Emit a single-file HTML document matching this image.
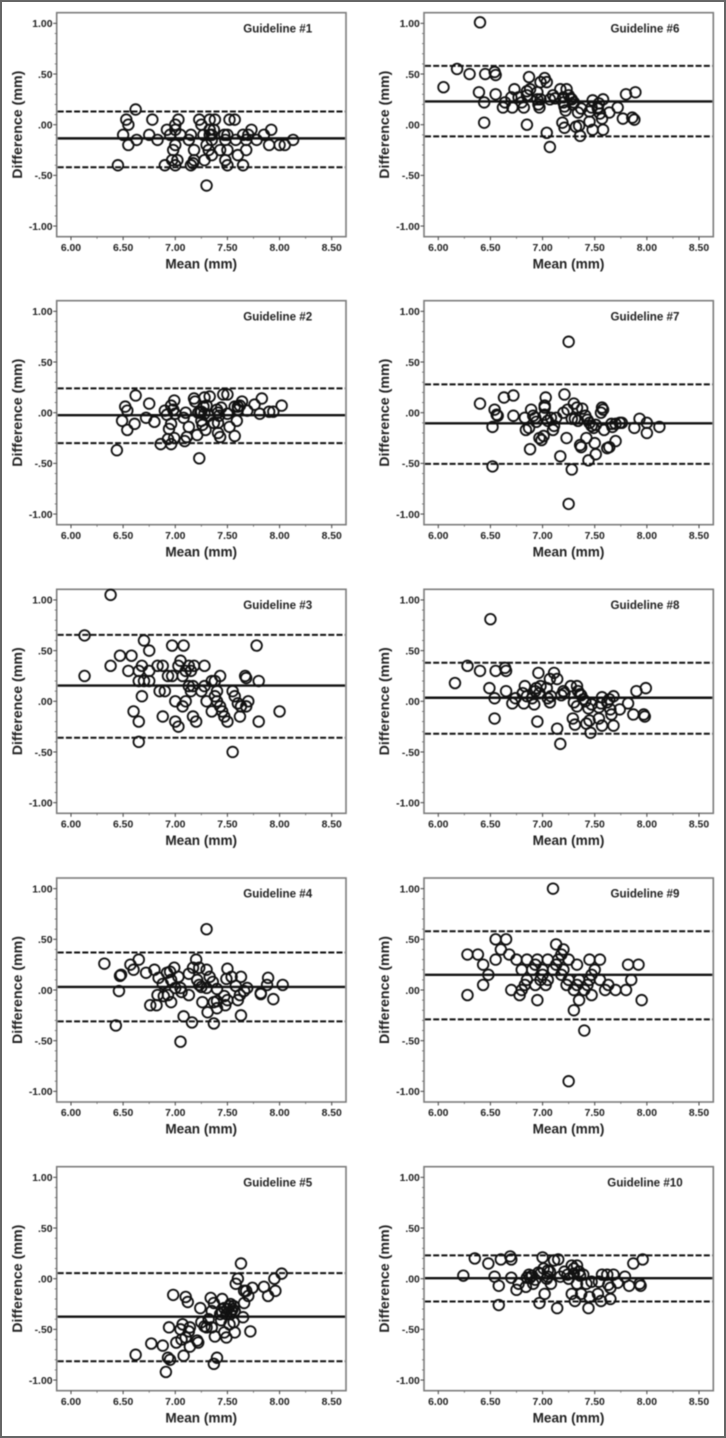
<!DOCTYPE html>
<html lang="en">
<head>
<meta charset="utf-8">
<title>Bland-Altman plots for guidelines 1 to 10</title>
<style>
  html, body { margin: 0; padding: 0; background: #fff; width: 726px; height: 1438px; overflow: hidden; }
  #page-frame { position: absolute; left: 0; top: 0; width: 722px; height: 1434px; border: 2px solid #666; }
  #figure { position: absolute; left: 0; top: 0; display: block; filter: blur(0.45px); }
  text { font-family: "Liberation Sans", Arial, sans-serif; font-weight: bold; fill: #222; }
</style>
</head>
<body>
<div id="page-frame"></div>
<svg id="figure" xmlns="http://www.w3.org/2000/svg" width="726" height="1438" viewBox="0 0 726 1438"></svg>
<script>
// ---- Tick data ----
const xTickValues = [6, 6.5, 7, 7.5, 8, 8.5];
const xTickLabels = ['6.00', '6.50', '7.00', '7.50', '8.00', '8.50'];
const xMinorValues = [6.25, 6.75, 7.25, 7.75, 8.25];
const yTickValues = [1, 0.5, 0, -0.5, -1];
const yTickLabels = ['1.00', '.50', '.00', '-.50', '-1.00'];
const yMinorValues = [0.9, 0.8, 0.7, 0.6, 0.4, 0.3, 0.2, 0.1, -0.1, -0.2, -0.3, -0.4, -0.6, -0.7, -0.8, -0.9];

// ---- Panel titles and limit lines, Guideline #1 to #10 ----
const guidelineTitles = ['Guideline #1','Guideline #2','Guideline #3','Guideline #4','Guideline #5','Guideline #6','Guideline #7','Guideline #8','Guideline #9','Guideline #10'];
const meanDifference = [-0.135,-0.025,0.155,0.03,-0.375,0.23,-0.105,0.035,0.15,0.005];
const upperLimit = [0.13,0.24,0.655,0.37,0.055,0.58,0.28,0.38,0.58,0.23];
const lowerLimit = [-0.42,-0.30,-0.36,-0.31,-0.815,-0.115,-0.505,-0.32,-0.29,-0.225];

// ---- Observations: [mean, difference] ----
const guideline1 = [[6.45,-.40],[6.50,-.10],[6.53,.05],[6.55,.00],[6.55,-.20],[6.62,.15],[6.63,-.15],[6.75,-.10],[6.78,.05],[6.83,-.15],[6.90,-.40],[6.92,-.05],[6.95,-.10],[6.98,-.25],[6.97,-.35],[7.00,.00],[7.00,-.05],[7.00,-.20],[7.00,-.40],[7.02,-.35],[7.03,.05],[7.05,-.10],[7.13,-.15],[7.15,-.40],[7.15,-.10],[7.17,-.38],[7.18,-.25],[7.18,-.35],[7.23,.05],[7.25,.00],[7.27,-.10],[7.28,-.35],[7.30,-.60],[7.30,-.20],[7.32,-.25],[7.33,.05],[7.33,-.05],[7.33,-.10],[7.35,-.15],[7.35,-.30],[7.37,-.05],[7.38,.05],[7.35,-.10],[7.43,-.25],[7.47,-.10],[7.48,-.35],[7.50,-.25],[7.52,.05],[7.57,.05],[7.50,-.10],[7.48,-.15],[7.50,-.40],[7.58,-.15],[7.60,-.30],[7.65,-.40],[7.65,-.10],[7.68,-.25],[7.68,-.15],[7.70,-.10],[7.73,-.05],[7.78,-.15],[7.85,-.10],[7.90,-.20],[7.92,-.05],[8.00,-.20],[8.05,-.20],[8.13,-.15]];
const guideline2 = [[6.44,-.37],[6.49,-.08],[6.52,.06],[6.54,.02],[6.54,-.17],[6.62,.17],[6.61,-.11],[6.72,-.05],[6.75,.09],[6.80,-.09],[6.86,-.31],[6.90,.02],[6.92,-.02],[6.93,-.26],[6.94,-.16],[6.96,-.31],[6.96,-.11],[6.96,.07],[6.98,.03],[6.99,.12],[6.99,-.25],[7.00,-.01],[7.08,-.05],[7.09,-.28],[7.10,.00],[7.11,-.24],[7.13,-.14],[7.18,.14],[7.19,.11],[7.21,-.22],[7.22,.00],[7.24,.00],[7.23,-.45],[7.25,.01],[7.25,-.08],[7.26,-.12],[7.27,.06],[7.28,.15],[7.28,-.01],[7.29,-.17],[7.30,.07],[7.33,.16],[7.32,-.03],[7.37,-.10],[7.40,.03],[7.41,-.10],[7.41,-.20],[7.41,.00],[7.42,-.03],[7.43,-.24],[7.44,.05],[7.46,.18],[7.50,.18],[7.50,-.01],[7.52,-.14],[7.57,.06],[7.57,-.23],[7.60,.06],[7.60,.03],[7.59,-.08],[7.64,.11],[7.62,.07],[7.69,.02],[7.76,.08],[7.81,-.01],[7.83,.14],[7.90,.01],[7.94,.01],[8.02,.07]];
const guideline3 = [[6.13,.65],[6.13,.25],[6.38,1.05],[6.38,.35],[6.47,.45],[6.58,.45],[6.55,.30],[6.60,-.10],[6.65,.30],[6.65,.20],[6.65,-.20],[6.65,-.40],[6.68,.35],[6.68,.05],[6.70,.60],[6.70,.20],[6.75,.20],[6.75,.50],[6.75,.30],[6.83,.35],[6.85,.10],[6.88,.35],[6.90,.10],[6.88,-.15],[6.93,.25],[6.97,.25],[6.97,.55],[7.00,.00],[7.00,-.20],[7.03,-.25],[7.03,.35],[7.05,.40],[7.08,.55],[7.07,.25],[7.07,-.05],[7.10,.30],[7.10,.00],[7.13,.15],[7.13,.35],[7.15,.30],[7.15,.10],[7.17,.15],[7.18,.35],[7.17,-.15],[7.20,-.20],[7.25,.10],[7.28,.15],[7.28,.35],[7.30,.00],[7.35,.20],[7.35,-.10],[7.38,.20],[7.38,.05],[7.40,.10],[7.40,.00],[7.43,.25],[7.43,-.05],[7.45,-.10],[7.47,-.15],[7.50,-.20],[7.55,.10],[7.55,-.50],[7.57,.05],[7.60,-.02],[7.62,-.15],[7.63,-.05],[7.67,.25],[7.68,.23],[7.68,-.05],[7.70,.00],[7.78,.55],[7.80,.20],[7.80,-.20],[8.00,-.10]];
const guideline4 = [[6.32,.26],[6.43,-.35],[6.46,-.01],[6.48,.15],[6.47,.14],[6.57,.25],[6.60,.20],[6.65,.30],[6.72,.17],[6.76,-.15],[6.82,-.15],[6.80,.20],[6.83,-.05],[6.84,.12],[6.88,.06],[6.89,-.06],[6.93,-.05],[6.92,.17],[6.95,.18],[6.96,-.12],[6.96,.10],[6.99,.22],[7.00,.02],[7.03,.13],[7.05,.02],[7.05,-.51],[7.06,-.02],[7.08,-.26],[7.13,-.05],[7.13,.16],[7.16,-.32],[7.17,.22],[7.20,.30],[7.21,.10],[7.23,.22],[7.23,.05],[7.25,.03],[7.26,-.12],[7.30,.02],[7.31,-.22],[7.30,.60],[7.30,.20],[7.33,.13],[7.36,.08],[7.37,-.12],[7.37,-.33],[7.40,.01],[7.40,-.18],[7.40,-.11],[7.47,-.06],[7.48,-.15],[7.50,-.10],[7.50,.21],[7.49,.11],[7.54,.13],[7.58,.04],[7.60,-.10],[7.62,-.05],[7.63,.13],[7.63,-.25],[7.66,-.01],[7.69,.02],[7.82,-.04],[7.82,-.03],[7.88,.05],[7.89,.12],[7.94,-.09],[8.03,.05]];
const guideline5 = [[6.62,-.75],[6.77,-.64],[6.88,-.66],[6.91,-.92],[6.93,-.78],[6.95,-.80],[6.94,-.48],[6.98,-.16],[7.01,-.63],[7.05,-.50],[7.06,-.60],[7.08,-.76],[7.07,-.45],[7.10,-.18],[7.12,-.23],[7.10,-.58],[7.13,-.52],[7.14,-.48],[7.14,-.67],[7.21,-.61],[7.22,-.63],[7.24,-.29],[7.25,-.43],[7.28,-.47],[7.30,-.48],[7.32,-.40],[7.34,-.19],[7.35,-.48],[7.35,-.32],[7.37,-.24],[7.37,-.84],[7.40,-.78],[7.38,-.57],[7.43,-.35],[7.44,-.41],[7.45,-.20],[7.47,-.53],[7.47,-.29],[7.49,-.58],[7.49,-.35],[7.53,-.25],[7.52,-.45],[7.54,-.32],[7.56,-.27],[7.57,-.53],[7.56,-.43],[7.57,-.32],[7.58,-.05],[7.60,.00],[7.63,.15],[7.65,-.38],[7.66,-.24],[7.66,-.12],[7.68,-.12],[7.70,-.17],[7.72,-.52],[7.74,-.09],[7.85,-.08],[7.89,-.17],[7.95,.00],[7.96,-.12],[8.02,.05],[7.50,-.30],[7.52,-.27],[7.53,-.35],[7.55,-.30],[7.45,-.33]];
const guideline6 = [[6.05,.37],[6.18,.55],[6.30,.50],[6.39,.32],[6.40,1.01],[6.44,.22],[6.44,.02],[6.45,.50],[6.54,.52],[6.55,.49],[6.55,.30],[6.62,.17],[6.64,.22],[6.70,.27],[6.71,.17],[6.73,.35],[6.77,.27],[6.82,.17],[6.80,.22],[6.85,.33],[6.85,.00],[6.85,.29],[6.87,.47],[6.88,.35],[6.95,.32],[6.96,.20],[6.97,.17],[6.95,.25],[6.98,.42],[7.02,.46],[7.04,.42],[6.98,.25],[7.04,-.08],[7.07,-.22],[7.07,.25],[7.10,.29],[7.12,.26],[7.17,.35],[7.19,.02],[7.20,.27],[7.20,.22],[7.21,-.03],[7.22,.14],[7.23,.35],[7.21,.18],[7.25,.29],[7.27,.26],[7.28,.25],[7.29,.20],[7.30,.22],[7.32,-.02],[7.34,.12],[7.35,-.01],[7.36,-.11],[7.37,.16],[7.45,.03],[7.45,.13],[7.48,.24],[7.48,-.05],[7.47,.17],[7.53,.17],[7.54,.21],[7.53,.16],[7.55,.11],[7.57,.06],[7.58,.25],[7.58,-.05],[7.64,.12],[7.72,.17],[7.77,.06],[7.80,.30],[7.86,.07],[7.88,.05],[7.89,.32]];
const guideline7 = [[6.40,.09],[6.52,-.14],[6.52,-.53],[6.54,.03],[6.56,-.02],[6.57,-.03],[6.63,.15],[6.72,.17],[6.72,-.03],[6.83,-.05],[6.84,-.17],[6.87,-.15],[6.88,-.36],[6.89,.03],[6.91,-.03],[6.93,-.05],[6.94,-.09],[6.97,-.25],[6.99,-.27],[7.01,-.23],[7.02,.07],[7.02,-.02],[7.03,.15],[7.02,.05],[7.05,-.08],[7.08,-.05],[7.10,-.17],[7.13,-.05],[7.11,-.13],[7.17,-.43],[7.21,.18],[7.20,.00],[7.23,-.25],[7.24,.03],[7.25,.70],[7.25,-.90],[7.28,-.06],[7.28,-.56],[7.30,.09],[7.31,-.06],[7.33,.05],[7.34,-.08],[7.36,-.32],[7.37,-.34],[7.38,.04],[7.41,-.03],[7.43,-.07],[7.42,-.25],[7.44,-.47],[7.45,-.10],[7.47,-.13],[7.49,-.15],[7.50,-.30],[7.51,-.41],[7.51,-.12],[7.56,.00],[7.57,.05],[7.58,.03],[7.59,-.17],[7.62,-.35],[7.64,-.34],[7.66,-.11],[7.67,-.14],[7.70,-.28],[7.70,-.11],[7.74,-.10],[7.76,-.10],[7.88,-.15],[7.93,-.06],[8.00,-.10],[8.00,-.20],[8.12,-.14]];
const guideline8 = [[6.16,.18],[6.28,.35],[6.40,.30],[6.49,.13],[6.50,.81],[6.54,.03],[6.54,-.17],[6.55,.30],[6.64,.33],[6.65,.30],[6.65,.10],[6.71,-.02],[6.74,.03],[6.81,.08],[6.82,-.02],[6.83,.15],[6.85,.05],[6.90,.03],[6.92,-.03],[6.93,.10],[6.94,.13],[6.95,-.20],[6.96,.28],[6.97,.08],[6.98,.15],[7.04,.13],[7.05,.03],[7.07,-.01],[7.07,.22],[7.08,.05],[7.11,.28],[7.14,.22],[7.14,-.27],[7.17,-.42],[7.18,.06],[7.20,.10],[7.21,.08],[7.27,.15],[7.29,-.17],[7.30,-.01],[7.31,-.23],[7.33,-.05],[7.33,.15],[7.34,.10],[7.36,.07],[7.37,.06],[7.39,.02],[7.41,.00],[7.42,-.22],[7.44,-.07],[7.45,-.19],[7.46,-.31],[7.47,-.03],[7.54,-.17],[7.54,-.06],[7.57,.04],[7.57,-.24],[7.56,-.02],[7.62,-.01],[7.64,.02],[7.65,-.08],[7.66,-.13],[7.68,.05],[7.68,-.24],[7.74,-.08],[7.82,-.02],[7.87,-.13],[7.90,.10],[7.97,-.13],[7.98,-.15],[7.99,.13]];
const guideline9 = [[6.28,.35],[6.28,-.05],[6.38,.35],[6.43,.25],[6.43,.05],[6.48,.15],[6.55,.50],[6.55,.30],[6.60,.40],[6.65,.50],[6.68,.35],[6.70,.00],[6.75,.30],[6.78,-.05],[6.80,.20],[6.80,.00],[6.83,.05],[6.85,.30],[6.85,.10],[6.90,.20],[6.93,.25],[6.93,.05],[6.95,-.10],[6.95,.30],[6.98,.10],[7.00,.15],[7.00,.20],[7.03,.05],[7.05,.30],[7.05,.10],[7.10,.20],[7.10,1.00],[7.13,.45],[7.13,.25],[7.15,.30],[7.18,.35],[7.18,.15],[7.20,.40],[7.20,.20],[7.23,.05],[7.25,.30],[7.25,-.90],[7.25,.10],[7.30,.00],[7.30,-.20],[7.33,.25],[7.33,.05],[7.35,-.10],[7.35,.10],[7.40,.00],[7.40,-.40],[7.43,.05],[7.45,.30],[7.45,.10],[7.47,.15],[7.47,-.05],[7.50,.20],[7.55,.30],[7.55,.10],[7.60,.00],[7.63,.05],[7.70,.00],[7.80,.00],[7.82,.25],[7.85,.10],[7.92,.25],[7.95,-.10]];
const guideline10 = [[6.24,.03],[6.35,.20],[6.48,.15],[6.54,.02],[6.58,-.07],[6.58,-.26],[6.60,.19],[6.69,.22],[6.70,.19],[6.70,.01],[6.75,-.11],[6.77,-.05],[6.84,-.08],[6.85,.01],[6.87,.04],[6.88,.01],[6.91,-.05],[6.93,-.01],[6.97,-.24],[6.98,.05],[7.00,.21],[7.01,.10],[7.02,-.15],[7.05,.02],[7.07,.07],[7.08,-.05],[7.11,.18],[7.14,-.29],[7.15,.19],[7.17,.02],[7.21,.07],[7.25,.00],[7.28,.13],[7.28,-.15],[7.30,.05],[7.31,-.22],[7.33,-.05],[7.33,.13],[7.35,.07],[7.37,-.15],[7.39,.04],[7.44,-.29],[7.42,-.05],[7.45,-.18],[7.47,-.03],[7.53,-.15],[7.54,-.03],[7.56,-.22],[7.57,.04],[7.62,.04],[7.63,-.06],[7.65,-.09],[7.65,-.20],[7.68,.04],[7.72,-.04],[7.79,.02],[7.83,-.07],[7.87,.15],[7.93,-.05],[7.94,-.07],[7.96,.19],[6.90,.03],[6.96,.06],[7.04,.00],[7.24,.04],[7.30,.10],[7.36,.03],[7.05,.08]];
const guidelinePoints = [guideline1,guideline2,guideline3,guideline4,guideline5,guideline6,guideline7,guideline8,guideline9,guideline10];

// ---- Layout and axis functions ----
const SVGNS = 'http://www.w3.org/2000/svg';
const figure = document.getElementById('figure');
const frameLefts = [56.7, 424];
const frameTops = [12.7, 300.7, 589.3, 878, 1166.7];
const frameW = 289.3;
const frameH = 224;
const xDomain = [5.863, 8.637];
const yDomain = [-1.105, 1.105];

function make(tag, attrs, parent) {
  const el = document.createElementNS(SVGNS, tag);
  for (const k in attrs) el.setAttribute(k, attrs[k]);
  parent.appendChild(el);
  return el;
}
function xScale(v, left) {
  return left + (v - xDomain[0]) / (xDomain[1] - xDomain[0]) * frameW;
}
function yScale(v, top) {
  return top + frameH - (v - yDomain[0]) / (yDomain[1] - yDomain[0]) * frameH;
}

function drawPanel(i) {
  const left = frameLefts[i < 5 ? 0 : 1];
  const top = frameTops[i % 5];
  const right = left + frameW;
  const bottom = top + frameH;
  const n = i + 1;

  const panel = make('g', {}, figure);
  
  

  const frame = make('rect', { x: left, y: top, width: frameW, height: frameH, fill: '#fff', stroke: '#7c7c7c', 'stroke-width': 1.6 }, panel);
  
  

  // y axis
  yMinorValues.forEach(function (v) {
    const y = yScale(v, top);
    const t = make('line', { x1: left - 2, x2: left, y1: y, y2: y, stroke: '#666', 'stroke-width': 0.8 }, panel);
    
    
  });
  yTickValues.forEach(function (v, k) {
    const y = yScale(v, top);
    const t = make('line', { x1: left - 3.5, x2: left, y1: y, y2: y, stroke: '#444', 'stroke-width': 1 }, panel);
    
    
    const l = make('text', { x: left - 4.2, y: y + 3.8, 'text-anchor': 'end', 'font-size': 10.4 }, panel);
    l.textContent = yTickLabels[k];
    
    
  });

  // x axis
  xMinorValues.forEach(function (v) {
    const x = xScale(v, left);
    const t = make('line', { x1: x, x2: x, y1: bottom, y2: bottom + 2, stroke: '#666', 'stroke-width': 0.8 }, panel);
    
    
  });
  xTickValues.forEach(function (v, k) {
    const x = xScale(v, left);
    const t = make('line', { x1: x, x2: x, y1: bottom, y2: bottom + 3.5, stroke: '#444', 'stroke-width': 1 }, panel);
    
    
    const l = make('text', { x: x, y: bottom + 14.2, 'text-anchor': 'middle', 'font-size': 10.4 }, panel);
    l.textContent = xTickLabels[k];
    
    
  });

  // axis titles
  const xTitle = make('text', { x: left + 144.5, y: bottom + 31.6, 'text-anchor': 'middle', 'font-size': 13.6 }, panel);
  xTitle.textContent = 'Mean (mm)';
  
  

  const yMid = yScale(0, top);
  const yTitleX = left - 34.8;
  const yTitle = make('text', { x: yTitleX, y: yMid, 'text-anchor': 'middle', 'font-size': 14.2, transform: 'rotate(-90 ' + yTitleX + ' ' + yMid + ')' }, panel);
  yTitle.textContent = 'Difference (mm)';
  
  

  // panel title
  const title = make('text', { x: left + 221, y: top + 19.6, 'text-anchor': 'middle', 'font-size': 11.6 }, panel);
  title.textContent = guidelineTitles[i];
  
  

  // reference lines
  const upY = yScale(upperLimit[i], top);
  const up = make('line', { x1: left + 1, x2: right - 1, y1: upY, y2: upY, stroke: '#111', 'stroke-width': 2, 'stroke-dasharray': '6 2.2' }, panel);
  
  

  const lowY = yScale(lowerLimit[i], top);
  const low = make('line', { x1: left + 1, x2: right - 1, y1: lowY, y2: lowY, stroke: '#111', 'stroke-width': 2, 'stroke-dasharray': '6 2.2' }, panel);
  
  

  const meanY = yScale(meanDifference[i], top);
  const mean = make('line', { x1: left + 1, x2: right - 1, y1: meanY, y2: meanY, stroke: '#111', 'stroke-width': 2.4 }, panel);
  
  

  // points
  guidelinePoints[i].forEach(function (p) {
    const c = make('circle', { cx: xScale(p[0], left), cy: yScale(p[1], top), r: 5.3, fill: 'none', stroke: '#111', 'stroke-width': 1.8 }, panel);
    
    
  });
}

guidelinePoints.forEach(function (_, i) { drawPanel(i); });
</script>
</body>
</html>
